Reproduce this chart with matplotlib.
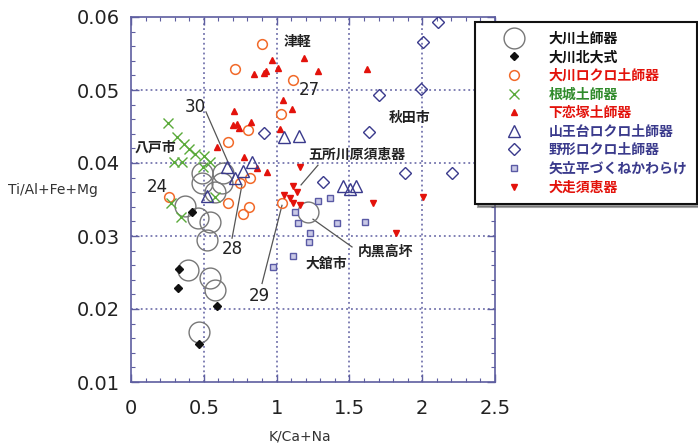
import matplotlib
matplotlib.use("Agg")
import matplotlib.pyplot as plt
from matplotlib.lines import Line2D
from matplotlib.ticker import MultipleLocator

plt.rcParams['font.family'] = ['DejaVu Sans', 'Noto Sans CJK JP']
JP = ['Noto Sans CJK JP', 'DejaVu Sans']

# ---- data (K/Ca+Na, Ti/Al+Fe+Mg) ----
okawa_haji_x = [0.488, 0.632, 0.488, 0.625, 0.577, 0.371, 0.460, 0.543, 0.522, 0.391, 0.543, 0.577, 0.467, 1.216]
okawa_haji_y = [0.0386, 0.0386, 0.0373, 0.0373, 0.0360, 0.0341, 0.0325, 0.0319, 0.0295, 0.0253, 0.0242, 0.0226, 0.0168, 0.0333]

kitaoo_x = [0.419, 0.330, 0.323, 0.591, 0.467]
kitaoo_y = [0.0333, 0.0255, 0.0229, 0.0204, 0.0152]

okawa_rokuro_x = [0.900, 0.714, 1.113, 1.030, 0.804, 0.666, 0.817, 0.749, 0.261, 0.666, 0.810, 0.769, 1.037]
okawa_rokuro_y = [0.0563, 0.0529, 0.0514, 0.0467, 0.0445, 0.0429, 0.0379, 0.0373, 0.0353, 0.0345, 0.0340, 0.0330, 0.0345]

nejo_x = [0.254, 0.316, 0.364, 0.398, 0.440, 0.501, 0.543, 0.295, 0.350, 0.495, 0.275, 0.343, 0.577]
nejo_y = [0.0455, 0.0436, 0.0426, 0.0419, 0.0412, 0.0410, 0.0401, 0.0401, 0.0401, 0.0394, 0.0345, 0.0326, 0.0353]

shimokoi_x = [0.968, 0.845, 0.913, 0.927, 1.010, 1.188, 1.284, 1.621, 1.044, 1.106, 0.707, 0.701, 0.728, 0.742, 0.824, 1.023, 0.591, 0.776, 0.865, 0.934]
shimokoi_y = [0.0541, 0.0522, 0.0523, 0.0526, 0.0530, 0.0544, 0.0526, 0.0529, 0.0486, 0.0474, 0.0471, 0.0452, 0.0453, 0.0448, 0.0456, 0.0447, 0.0422, 0.0408, 0.0393, 0.0388]

sannodai_x = [1.051, 1.154, 0.831, 0.659, 0.769, 0.714, 0.522, 1.456, 1.504, 1.545]
sannodai_y = [0.0436, 0.0437, 0.0401, 0.0395, 0.0389, 0.0379, 0.0355, 0.0368, 0.0364, 0.0368]

nogata_x = [2.108, 2.005, 1.992, 1.703, 1.635, 1.882, 2.205, 1.319, 0.913]
nogata_y = [0.0593, 0.0566, 0.0501, 0.0493, 0.0442, 0.0386, 0.0386, 0.0374, 0.0441]

yatate_x = [1.284, 1.367, 1.126, 1.147, 1.415, 1.607, 1.229, 1.223, 1.113, 0.975]
yatate_y = [0.0348, 0.0352, 0.0333, 0.0318, 0.0318, 0.0319, 0.0304, 0.0292, 0.0273, 0.0258]

inubashiri_x = [1.161, 1.113, 1.140, 1.051, 1.092, 1.113, 1.161, 1.662, 2.005, 1.820]
inubashiri_y = [0.0395, 0.0368, 0.0360, 0.0356, 0.0352, 0.0345, 0.0342, 0.0345, 0.0353, 0.0304]

x_ticks = [0, 0.5, 1, 1.5, 2, 2.5]
x_ticklabels = ['0', '0.5', '1', '1.5', '2', '2.5']
y_ticks = [0.01, 0.02, 0.03, 0.04, 0.05, 0.06]
y_ticklabels = ['0.01', '0.02', '0.03', '0.04', '0.05', '0.06']

legend_labels = ['大川土師器', '大川北大式', '大川ロクロ土師器', '根城土師器', '下恋塚土師器',
                 '山王台ロクロ土師器', '野形ロクロ土師器', '矢立平づくねかわらけ', '犬走須恵器']

NAVY = '#3a3a8c'
RED = '#e3120b'
ORANGE = '#f26a2a'
GREEN = '#5aaa3a'
AXC = '#5e5ea0'

fig = plt.figure(figsize=(6.98, 4.47), dpi=100)
ax = fig.add_axes([131/698, 65/447, (495-131)/698, (382-17)/447])

ax.set_xlim(0, 2.5)
ax.set_ylim(0.01, 0.06)

# grid
for gx in [0.5, 1.0, 1.5, 2.0]:
    ax.axvline(gx, color=AXC, lw=1.1, ls=(0, (1.2, 2.0)), zorder=0)
for gy in [0.02, 0.03, 0.04, 0.05]:
    ax.axhline(gy, color=AXC, lw=1.1, ls=(0, (1.2, 2.0)), zorder=0)

# series
ax.plot(okawa_haji_x, okawa_haji_y, ls='none', marker='o', ms=15, mfc='none', mec='#777777', mew=1.0, zorder=2)
ax.plot(kitaoo_x, kitaoo_y, ls='none', marker='D', ms=4.5, mfc='#111111', mec='#111111', zorder=4)
ax.plot(okawa_rokuro_x, okawa_rokuro_y, ls='none', marker='o', ms=7, mfc='none', mec=ORANGE, mew=1.1, zorder=3)
ax.plot(nejo_x, nejo_y, ls='none', marker='x', ms=7, mec=GREEN, mew=1.0, zorder=3)
ax.plot(shimokoi_x, shimokoi_y, ls='none', marker='^', ms=5, mfc=RED, mec=RED, zorder=3)
ax.plot(sannodai_x, sannodai_y, ls='none', marker='^', ms=8, mfc='none', mec=NAVY, mew=1.0, zorder=3)
ax.plot(nogata_x, nogata_y, ls='none', marker='D', ms=6, mfc='none', mec=NAVY, mew=1.0, zorder=3)
ax.plot(yatate_x, yatate_y, ls='none', marker='s', ms=5, mfc='#c9c9e6', mec='#5a5aa5', mew=1.0, zorder=3)
ax.plot(inubashiri_x, inubashiri_y, ls='none', marker='v', ms=5, mfc=RED, mec=RED, zorder=3)

# axes styling
for s in ax.spines.values():
    s.set_color(AXC)
    s.set_linewidth(1.2)
ax.set_xticks(x_ticks)
ax.set_xticklabels(x_ticklabels)
ax.set_yticks(y_ticks)
ax.set_yticklabels(y_ticklabels)
ax.xaxis.set_minor_locator(MultipleLocator(0.1))
ax.yaxis.set_minor_locator(MultipleLocator(0.002))
ax.tick_params(which='both', direction='in', top=True, right=True, color=AXC, labelsize=14, labelcolor='#222222')
ax.tick_params(which='major', length=6, width=1.0)
ax.tick_params(which='minor', length=3, width=0.8)
ax.tick_params(axis='x', pad=12)
ax.tick_params(axis='y', pad=8)

fig.text(300/698, 1 - 436/447, 'K/Ca+Na', ha='center', va='center', fontsize=10, color='#333333')
fig.text(8/698, 1 - 190/447, 'Ti/Al+Fe+Mg', ha='left', va='center', fontsize=10, color='#333333')

# annotations
ann = dict(fontfamily=JP, fontsize=10, fontweight='bold', color='#222222', ha='center', va='center', zorder=5)
ax.text(1.147, 0.0566, '津軽', **ann)
ax.text(0.165, 0.0421, '八戸市', **ann)
ax.text(1.552, 0.0411, '五所川原須恵器', **ann)
ax.text(1.745, 0.0278, '内黒高坏', **ann)
ax.text(1.339, 0.0262, '大舘市', **ann)
ax.text(1.916, 0.0462, '秋田市', **ann)
num = dict(fontsize=12, color='#222222', ha='center', va='center', zorder=5)
ax.text(1.223, 0.0500, '27', **num)
ax.text(0.440, 0.0477, '30', **num)
ax.text(0.179, 0.0367, '24', **num)
ax.text(0.694, 0.0282, '28', **num)
ax.text(0.879, 0.0218, '29', **num)

lc = dict(color='#555555', lw=0.9, zorder=1)
ax.plot([0.515, 0.680], [0.0470, 0.0395], **lc)
ax.plot([0.694, 0.762], [0.0297, 0.0370], **lc)
ax.plot([0.900, 1.037], [0.0235, 0.0342], **lc)
ax.plot([1.284, 1.168], [0.0397, 0.0370], **lc)
ax.plot([1.250, 1.518], [0.0323, 0.0285], **lc)

# legend
handles = [
    Line2D([], [], ls='none', marker='o', ms=15, mfc='none', mec='#777777', mew=1.0),
    Line2D([], [], ls='none', marker='D', ms=4.5, mfc='#111111', mec='#111111'),
    Line2D([], [], ls='none', marker='o', ms=7, mfc='none', mec=ORANGE, mew=1.1),
    Line2D([], [], ls='none', marker='x', ms=7, mec=GREEN, mew=1.0),
    Line2D([], [], ls='none', marker='^', ms=5, mfc=RED, mec=RED),
    Line2D([], [], ls='none', marker='^', ms=8, mfc='none', mec=NAVY, mew=1.0),
    Line2D([], [], ls='none', marker='D', ms=6, mfc='none', mec=NAVY, mew=1.0),
    Line2D([], [], ls='none', marker='s', ms=5, mfc='#c9c9e6', mec='#5a5aa5', mew=1.0),
    Line2D([], [], ls='none', marker='v', ms=5, mfc=RED, mec=RED),
]
text_colors = ['#111111', '#111111', RED, '#2f8a2a', RED, NAVY, NAVY, NAVY, RED]
leg = fig.legend(handles, legend_labels, loc='upper left', bbox_to_anchor=(475/698, 1 - 22/447),
                 prop={'family': JP, 'size': 10, 'weight': 'bold'},
                 frameon=True, fancybox=False, shadow=True, framealpha=1,
                 edgecolor='#111111', labelspacing=0.33, handlelength=4.2,
                 handletextpad=0.4, borderpad=0.7, borderaxespad=0)
leg.get_frame().set_linewidth(1.5)
for t, c in zip(leg.get_texts(), text_colors):
    t.set_color(c)

fig.savefig('out.png', dpi=100)
